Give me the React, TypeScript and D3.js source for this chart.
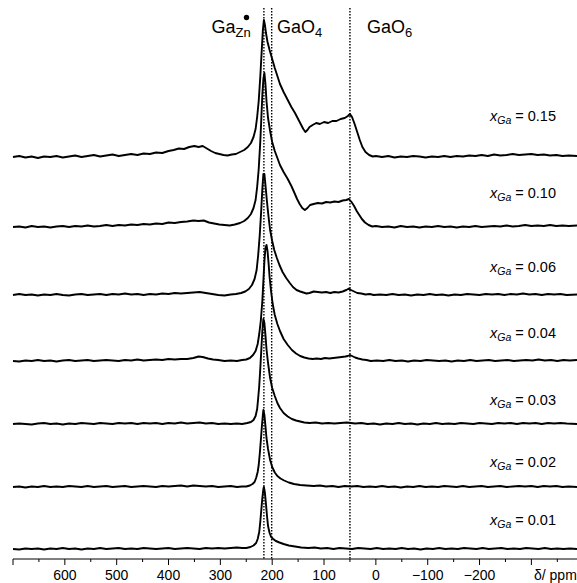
import React from "react";
import * as d3 from "d3";

const W = 577;
const H = 583;

// axis ticks (ppm)
const majorTicks = [700, 600, 500, 400, 300, 200, 100, 0, -100, -200, -300];
const majorLabels = ["", "600", "500", "400", "300", "200", "100", "0", "\u2212100", "\u2212200", ""];
const minorTicks = [650, 550, 450, 350, 250, 150, 50, -50, -150, -250, -350];

// dotted reference lines: Ga(Zn) site, GaO4, GaO6
const refLines = [216, 201, 50];

const compositions = ["0.15", "0.10", "0.06", "0.04", "0.03", "0.02", "0.01"];
// vertical stacking offset of each spectrum (intensity units)
const stackOffsets = [402, 332, 264, 198, 135, 72, 10];

type Pt = [number, number];

const s015: Pt[] = [[700,0],[688,1],[676,-0.5],[664,0.5],[652,-1],[640,0.5],[628,0],[616,1],[604,-0.5],[592,0.5],[580,1.5],[568,0],[556,1],[544,2],[532,0.5],[520,1.5],[508,2.5],[496,1],[484,2],[472,3],[460,2],[448,3.5],[436,3],[424,4.5],[412,4],[400,6],[390,7],[380,8.5],[370,8],[360,10],[350,11],[342,10],[334,11],[326,8.5],[318,6],[310,4],[302,3],[294,2],[286,1.5],[278,2.5],[270,3],[262,5],[254,7],[247,10],[241,14],[236,20],[232,28],[229,40],[226,56],[223,80],[220,108],[218,127],[216,137],[214,132],[212,124],[209,115],[205,107],[200,98],[195,89],[190,81],[185,73],[178,65],[170,57],[163,50],[156,44],[150,38],[145,33],[140,28],[136,25],[132,27],[128,30],[122,32],[115,34],[108,33],[100,35],[92,34],[84,36],[76,36],[68,38],[60,39],[54,41],[50,43],[46,40],[41,33],[36,25],[31,17],[26,10],[20,5],[13,2],[6,0.5],[0,1],[-12,0],[-24,1],[-36,-0.5],[-48,0.5],[-60,0],[-72,1],[-84,0.5],[-96,-0.5],[-108,0.5],[-120,0],[-132,1],[-144,0],[-156,1],[-168,0.5],[-180,1.5],[-192,1],[-204,2],[-216,1],[-228,2.5],[-240,1.5],[-252,2],[-264,3],[-276,2],[-288,2.5],[-300,3],[-312,2],[-324,2.5],[-336,1.5],[-348,2],[-360,1],[-372,1.5],[-388,1]];

const s010: Pt[] = [[700,0],[688,0.5],[676,-0.5],[664,1],[652,0],[640,0.5],[628,-0.5],[616,0.5],[604,1],[592,0],[580,1],[568,0.5],[556,1.5],[544,0.5],[532,1],[520,2],[508,1],[496,2],[484,1.5],[472,2.5],[460,2],[448,3],[436,2.5],[424,3.5],[412,3],[400,4.5],[388,4],[376,5],[364,5.5],[352,6.5],[342,6],[332,6.5],[322,4.5],[312,3.5],[302,2.5],[292,2],[282,1.5],[272,2.5],[262,4],[254,6],[247,9],[241,13],[236,19],[232,27],[229,40],[226,58],[223,85],[221,108],[219,132],[217,148],[215,154],[213,143],[211,126],[208,109],[204,96],[200,85],[195,76],[190,69],[185,62],[178,55],[170,48],[163,41],[157,34],[152,28],[147,23],[142,19],[137,17],[132,19],[127,22],[120,23],[112,24],[104,23.5],[96,25],[88,24.5],[80,25.5],[72,25],[64,26.5],[57,27],[52,28],[47,25],[42,21],[37,16],[32,12],[27,8],[21,4.5],[14,2],[7,0.5],[0,1],[-12,0],[-24,0.5],[-36,-0.5],[-48,1],[-60,0],[-72,0.5],[-84,-0.5],[-96,0.5],[-108,0],[-120,1],[-132,0],[-144,0.5],[-156,-0.5],[-168,0.5],[-180,0],[-192,1],[-204,0],[-216,0.5],[-228,1],[-240,0.5],[-252,1.5],[-264,0.5],[-276,1],[-288,2],[-300,1],[-312,1.5],[-324,1],[-336,2],[-348,1],[-360,1.5],[-372,1],[-388,1.5]];

const s006: Pt[] = [[700,0],[688,1],[676,0],[664,0.5],[652,-0.5],[640,0.5],[628,0],[616,1],[604,0],[592,-0.5],[580,0.5],[568,1],[556,0],[544,0.5],[532,1],[520,0],[508,1],[496,0.5],[484,1.5],[472,0.5],[460,1],[448,0],[436,1],[424,0.5],[412,1.5],[400,1],[388,2],[376,1.5],[364,2],[352,2.5],[340,3],[328,2],[316,1],[304,0],[292,-0.5],[280,0.5],[270,1],[260,2],[252,3.5],[245,6],[239,10],[234,16],[230,25],[227,40],[224,60],[221,86],[219,106],[217,121],[215,121],[213,110],[210,93],[207,78],[204,65],[200,54],[196,45],[191,37],[186,30],[180,23],[173,17],[166,12],[160,8],[153,5],[146,3.5],[140,2.5],[134,1.5],[128,2],[120,3.5],[112,3],[104,2.5],[96,3],[88,2],[80,3],[72,2.5],[64,3.5],[57,5],[52,6.5],[48,5],[42,3.5],[36,2],[28,1.5],[20,0.5],[12,1],[4,0],[-8,0.5],[-20,0],[-32,1],[-44,0],[-56,0.5],[-68,-0.5],[-80,0.5],[-92,0],[-104,1],[-116,0],[-128,0.5],[-140,-0.5],[-152,0.5],[-164,0],[-176,1],[-188,0.5],[-200,0],[-212,1],[-224,0.5],[-236,1],[-248,0],[-260,1],[-272,0.5],[-284,1.5],[-296,0.5],[-308,1],[-320,0],[-332,1],[-344,0.5],[-356,1],[-368,0],[-388,0.5]];

const s004: Pt[] = [[700,0],[688,-0.5],[676,0.5],[664,0],[652,1],[640,0],[628,0.5],[616,-0.5],[604,0.5],[592,1],[580,0],[568,0.5],[556,1],[544,0],[532,0.5],[520,1],[508,0.5],[496,0],[484,1],[472,0.5],[460,1.5],[448,0.5],[436,1],[424,1.5],[412,1],[400,2],[388,1.5],[376,2],[364,2],[352,3],[342,4.5],[334,4],[324,2.5],[314,1.5],[304,1],[292,0],[280,0.5],[268,0],[258,1],[250,1.5],[243,3],[237,6],[232,10],[228,17],[225,27],[222,40],[219,60],[217,80],[215,100],[213,113],[211,116],[209,110],[207,98],[205,84],[202,69],[199,57],[195,46],[190,37],[185,30],[178,22],[170,16],[162,11],[154,7.5],[146,5],[138,3.5],[130,2.5],[122,2],[114,2.5],[106,2],[98,3],[90,2.5],[82,3],[74,3.5],[66,4],[59,4.5],[54,5],[50,6],[46,5],[40,3.5],[34,2.5],[26,1.5],[18,1],[10,0],[-2,0.5],[-14,0],[-26,1],[-38,0],[-50,0.5],[-62,-0.5],[-74,0.5],[-86,0],[-98,1],[-110,0.5],[-122,0],[-134,0.5],[-146,-0.5],[-158,0.5],[-170,0],[-182,1],[-194,0],[-206,0.5],[-218,1],[-230,0],[-242,0.5],[-254,1],[-266,0],[-278,0.5],[-290,1],[-302,0.5],[-314,1.5],[-326,0.5],[-338,1],[-350,0],[-362,1],[-374,0.5],[-388,1]];

const s003: Pt[] = [[700,0],[688,0.5],[676,0],[664,-0.5],[652,0.5],[640,1],[628,0],[616,0.5],[604,-0.5],[592,0.5],[580,0],[568,1],[556,0.5],[544,0],[532,1],[520,0.5],[508,0],[496,1],[484,0.5],[472,1],[460,0],[448,1],[436,0.5],[424,1],[412,0],[400,1],[388,0.5],[376,1.5],[364,0.5],[352,1],[340,1.5],[328,0.5],[316,1],[304,0],[292,0.5],[280,0],[268,0.5],[258,0],[248,1],[241,2],[236,4],[232,8],[229,15],[227,26],[225,38],[223,55],[221,74],[219,93],[217,105],[215,101],[213,89],[211,75],[208,61],[204,46],[200,36],[195,28],[190,21],[185,16],[178,11],[170,7.5],[162,5],[154,3.5],[146,2.5],[138,1.5],[128,1],[116,1.5],[104,0.5],[92,1],[80,0.5],[68,1],[56,1.5],[48,1],[40,0.5],[28,1],[16,0],[4,0.5],[-8,-0.5],[-20,0.5],[-32,0],[-44,1],[-56,0],[-68,0.5],[-80,-0.5],[-92,0.5],[-104,0],[-116,1],[-128,0],[-140,0.5],[-152,0],[-164,1],[-176,0.5],[-188,0],[-200,1],[-212,0.5],[-224,0],[-236,1],[-248,0.5],[-260,1],[-272,0],[-284,1],[-296,0.5],[-308,1],[-320,0],[-332,1],[-344,0.5],[-356,1],[-368,0.5],[-388,0]];

const s002: Pt[] = [[700,0],[688,0.5],[676,-0.5],[664,0.5],[652,0],[640,1],[628,0],[616,0.5],[604,0],[592,1],[580,0.5],[568,0],[556,1],[544,0],[532,0.5],[520,1],[508,0],[496,0.5],[484,1],[472,0],[460,0.5],[448,1],[436,0.5],[424,0],[412,1],[400,0.5],[388,1],[376,1.5],[364,0.5],[352,1.5],[340,1],[328,0.5],[316,1],[304,0],[292,0.5],[280,1],[268,0],[258,0.5],[250,0.5],[243,1.5],[238,3],[234,5],[231,9],[228,15],[226,22],[224,33],[222,46],[220,60],[218,72],[217,77],[215,72],[213,61],[211,49],[208,38],[204,27],[200,20],[195,14.5],[190,11],[184,8.5],[177,6.5],[168,4.5],[158,3],[146,2],[134,1.5],[120,1],[108,1.5],[96,0.5],[84,1],[72,0],[60,1],[48,0.5],[36,1],[24,0],[12,0.5],[0,0],[-12,1],[-24,0],[-36,0.5],[-48,-0.5],[-60,0.5],[-72,0],[-84,1],[-96,0],[-108,0.5],[-120,0],[-132,1],[-144,0.5],[-156,0],[-168,1],[-180,0],[-192,0.5],[-204,1],[-216,0],[-228,0.5],[-240,1],[-252,0],[-264,0.5],[-276,1],[-288,0.5],[-300,1],[-312,0],[-324,1],[-336,0.5],[-348,1],[-360,0],[-372,0.5],[-388,0]];

const s001: Pt[] = [[700,0],[688,-0.5],[676,0.5],[664,0],[652,0.5],[640,-0.5],[628,0.5],[616,0],[604,1],[592,0],[580,0.5],[568,-0.5],[556,0.5],[544,0],[532,1],[520,0],[508,0.5],[496,1],[484,0],[472,0.5],[460,0],[448,1],[436,0.5],[424,0],[412,0.5],[400,1],[388,0],[376,0.5],[364,1],[352,0.5],[340,0],[328,1],[316,0.5],[304,1],[292,0.5],[280,1],[268,1.5],[258,1],[250,1],[242,2],[236,3.5],[231,6],[228,10],[225,17],[223,27],[221,39],[219,51],[217,60],[216,62],[214,56],[212,45],[210,33],[208,23],[205,16],[202,12],[198,10],[193,8],[186,6.5],[178,5],[168,3.5],[156,2.5],[144,1.5],[130,1],[118,1.5],[106,0.5],[94,1],[82,0],[70,1],[58,0.5],[46,0],[34,1],[22,0.5],[10,0],[-2,1],[-14,0],[-26,0.5],[-38,0],[-50,1],[-62,0],[-74,0.5],[-86,-0.5],[-98,0.5],[-110,0],[-122,1],[-134,0],[-146,0.5],[-158,0],[-170,1],[-182,0.5],[-194,0],[-206,1],[-218,0],[-230,0.5],[-242,1],[-254,0],[-266,0.5],[-278,0],[-290,1],[-302,0.5],[-314,0],[-326,1],[-338,0],[-350,0.5],[-362,0],[-374,0.5],[-388,0]];

const spectra = [s015, s010, s006, s004, s003, s002, s001];

// layout
const axisY = 559;
const labelRight = 556;
const labelBaselines = [121, 198, 272, 338, 405, 467, 525];
const font = "'Liberation Sans', Arial, Helvetica, sans-serif";

export default function App() {
  const x = d3.scaleLinear().domain([700, -388]).range([13, 577]);
  const y = d3.scaleLinear().domain([0, axisY]).range([axisY, 0]);

  return (
    <svg
      width={W}
      height={H}
      style={{ position: "absolute", left: 0, top: 0, background: "#fff" }}
      fontFamily={font}
    >
      {/* dotted reference lines */}
      {refLines.map((v, i) => (
        <line
          key={"r" + i}
          x1={x(v)}
          x2={x(v)}
          y1={8}
          y2={axisY}
          stroke="#000"
          strokeWidth={1.4}
          strokeDasharray="1.5,1.5"
        />
      ))}

      {/* spectra */}
      {spectra.map((s, i) => {
        const line = d3
          .line<Pt>()
          .x((d) => x(d[0]))
          .y((d) => y(stackOffsets[i] + d[1]));
        return (
          <path
            key={"s" + i}
            d={line(s) || ""}
            fill="none"
            stroke="#000"
            strokeWidth={1.9}
            strokeLinejoin="round"
          />
        );
      })}

      {/* composition labels */}
      {compositions.map((c, i) => (
        <text key={"l" + i} x={labelRight} y={labelBaselines[i]} textAnchor="end" fontSize={14.5}>
          <tspan fontStyle="italic">x</tspan>
          <tspan fontStyle="italic" fontSize={10.5} dy={3}>Ga</tspan>
          <tspan dy={-3}>{" = " + c}</tspan>
        </text>
      ))}

      {/* site labels */}
      <g fontSize={18}>
        <text x={211.5} y={33}>
          Ga<tspan fontSize={13} dy={4}>Zn</tspan>
        </text>
        <circle cx={246.5} cy={17.5} r={2.7} fill="#000" />
        <text x={277} y={33}>
          GaO<tspan fontSize={13} dy={4}>4</tspan>
        </text>
        <text x={367} y={33}>
          GaO<tspan fontSize={13} dy={4}>6</tspan>
        </text>
      </g>

      {/* x axis */}
      <line x1={x(700)} x2={W} y1={axisY} y2={axisY} stroke="#000" strokeWidth={1} />
      {majorTicks.map((v, i) => (
        <g key={"t" + i}>
          <line x1={x(v)} x2={x(v)} y1={axisY} y2={axisY + 6} stroke="#000" strokeWidth={1} />
          {majorLabels[i] && (
            <text x={x(v)} y={580} textAnchor="middle" fontSize={14}>
              {majorLabels[i]}
            </text>
          )}
        </g>
      ))}
      {minorTicks.map((v, i) => (
        <line key={"m" + i} x1={x(v)} x2={x(v)} y1={axisY} y2={axisY + 3} stroke="#000" strokeWidth={1} />
      ))}
      <text x={534} y={580} fontSize={14}>
        {"\u03b4/ ppm"}
      </text>
    </svg>
  );
}
